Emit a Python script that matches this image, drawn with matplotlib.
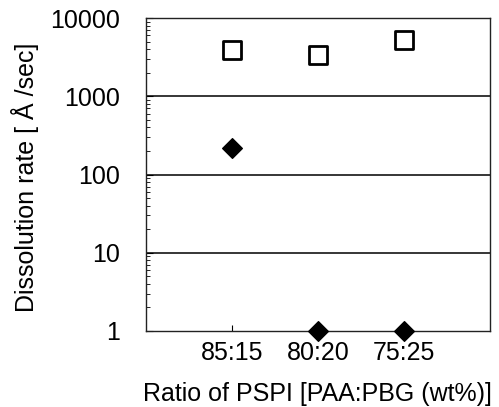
import matplotlib

matplotlib.use("Agg")

import matplotlib.pyplot as plt
import numpy as np
from matplotlib.ticker import LogLocator, NullFormatter, FixedLocator

CATEGORIES = ["85:15", "80:20", "75:25"]
OPEN_SQUARE = [3950, 3400, 5200]
FILLED_DIAMOND = [220, 1, 1]
Y_TICKS = [1, 10, 100, 1000, 10000]

plt.rcParams.update(
    {
        "font.family": ["Liberation Sans", "DejaVu Sans"],
        "font.size": 18,
        "axes.linewidth": 1.0,
    }
)

fig = plt.figure(figsize=(4.99, 4.07), dpi=100)
ax = fig.add_axes([146 / 499, 1 - 331 / 407, 344 / 499, 313 / 407])

x = np.arange(1, len(CATEGORIES) + 1)
ax.set_yscale("log")
ax.set_ylim(1, 10000)
ax.set_xlim(0, 4)

# horizontal rules at the inner decades
for yv in [10, 100, 1000]:
    ax.axhline(yv, color="black", lw=1.1, zorder=1)

ax.scatter(x, OPEN_SQUARE, marker="s", s=170, facecolors="white",
           edgecolors="black", linewidths=2.0, zorder=3, clip_on=False)
ax.scatter(x, FILLED_DIAMOND, marker="D", s=100, color="black",
           zorder=3, clip_on=False)

ax.set_xticks(x)
ax.set_xticklabels(CATEGORIES, fontsize=18)
ax.tick_params(axis="x", direction="in", length=4, width=0.8, pad=7)

ax.yaxis.set_major_locator(FixedLocator(Y_TICKS))
ax.set_yticklabels([str(v) for v in Y_TICKS], fontsize=18)
ax.yaxis.set_minor_locator(LogLocator(base=10, subs=np.arange(2, 10), numticks=20))
ax.yaxis.set_minor_formatter(NullFormatter())
ax.tick_params(axis="y", which="major", direction="in", length=5, width=0.8, pad=19)
ax.tick_params(axis="y", which="minor", direction="in", length=3, width=0.6)

for sp in ax.spines.values():
    sp.set_color("#222222")

ax.set_xlabel("Ratio of PSPI [PAA:PBG (wt%)]", fontsize=18)
ax.xaxis.set_label_coords(0.497, -0.163)
ax.set_ylabel("Dissolution rate [ Å /sec]", fontsize=18)
ax.yaxis.set_label_coords(-0.31, 0.49)

fig.savefig("out.png", dpi=100, facecolor="white")
